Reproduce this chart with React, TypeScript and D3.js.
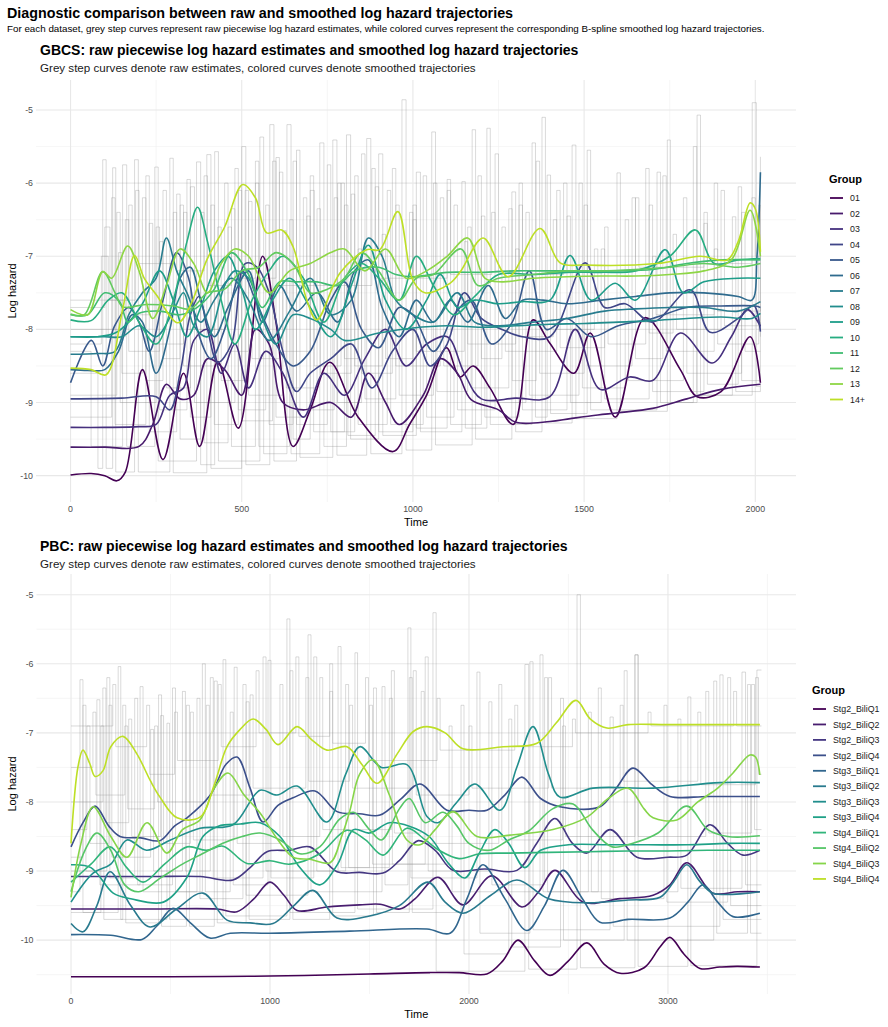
import React from "react";
import * as d3 from "d3";

type P = [number, number];

// ---------- GBCS ----------
const gbcsGroups = ["01", "02", "03", "04", "05", "06", "07", "08", "09", "10", "11", "12", "13", "14+"];

const g01: P[] = [[0,-9.99],[60,-9.97],[100,-10.0],[135,-10.07],[160,-9.95],[210,-8.55],[270,-9.78],[330,-8.6],[377,-9.6],[430,-8.44],[490,-9.35],[561,-7.0],[600,-7.9],[650,-9.6],[700,-9.1],[757,-8.45],[840,-9.2],[942,-9.67],[990,-9.3],[1040,-8.9],[1098,-8.25],[1137,-8.65],[1176,-8.5],[1225,-8.8],[1293,-9.3],[1351,-7.87],[1400,-8.19],[1470,-8.6],[1518,-8.05],[1591,-9.2],[1678,-7.84],[1781,-8.55],[1830,-8.92],[1900,-8.85],[1985,-8.1],[2015,-8.73]];
const g02: P[] = [[0,-9.61],[100,-9.61],[200,-9.6],[240,-9.3],[280,-8.75],[320,-8.95],[360,-8.9],[400,-8.4],[450,-8.55],[500,-8.9],[540,-8.0],[580,-8.2],[620,-9.0],[680,-9.1],[760,-9.0],[820,-9.2],[870,-8.6],[920,-9.0],[960,-9.3],[1030,-8.9],[1080,-8.4],[1130,-8.6],[1170,-8.96],[1250,-9.1],[1300,-9.27],[1400,-9.26],[1460,-9.22],[1540,-9.17],[1600,-9.14],[1700,-9.08],[1800,-8.95],[1900,-8.82],[2015,-8.75]];
const g03: P[] = [[0,-9.34],[100,-9.34],[200,-9.33],[250,-9.3],[290,-8.9],[330,-8.8],[360,-8.15],[400,-8.0],[440,-8.6],[480,-8.2],[520,-8.8],[570,-8.3],[620,-8.6],[680,-9.2],[740,-8.6],[800,-8.9],[860,-8.4],[920,-8.0],[980,-8.5],[1040,-8.2],[1100,-8.1],[1150,-8.6],[1200,-8.95],[1300,-8.94],[1400,-8.92],[1474,-8.0],[1547,-8.82],[1633,-8.65],[1700,-8.7],[1781,-8.05],[1874,-8.46],[1930,-8.1],[1977,-7.73],[2015,-7.96]];
const g04: P[] = [[0,-8.95],[150,-8.94],[250,-8.92],[290,-9.1],[320,-8.6],[350,-7.8],[375,-7.55],[400,-8.0],[430,-8.45],[470,-8.2],[510,-7.1],[545,-7.15],[580,-7.5],[620,-8.3],[660,-8.85],[700,-8.6],[760,-8.4],[820,-8.2],[880,-8.8],[940,-8.3],[1000,-8.0],[1050,-8.5],[1100,-8.2],[1150,-7.5],[1200,-7.85],[1260,-8.0],[1320,-8.1],[1400,-8.1],[1503,-7.09],[1560,-7.7],[1620,-7.65],[1700,-7.9],[1810,-7.46],[1868,-8.04],[1950,-7.85],[1995,-7.67],[2015,-8.03]];
const g05: P[] = [[0,-8.73],[61,-8.15],[94,-8.5],[128,-7.96],[170,-7.7],[200,-7.9],[230,-8.3],[270,-7.6],[310,-6.95],[345,-7.3],[370,-8.0],[410,-8.4],[450,-8.0],[500,-7.2],[540,-7.6],[600,-8.2],[650,-8.5],[700,-8.3],[760,-7.6],[800,-7.35],[850,-8.0],[900,-8.25],[960,-7.7],[1000,-7.8],[1060,-8.3],[1120,-7.8],[1170,-7.6],[1230,-8.2],[1290,-7.9],[1340,-7.2],[1390,-8.0],[1450,-7.85],[1520,-8.1],[1600,-7.95],[1700,-7.85],[1800,-7.7],[1900,-7.68],[2000,-7.68],[2015,-7.7]];
const g06: P[] = [[0,-8.55],[50,-8.56],[100,-8.55],[140,-8.3],[180,-7.8],[210,-7.9],[250,-8.6],[290,-8.0],[320,-7.3],[350,-7.15],[380,-7.6],[420,-8.1],[460,-7.7],[520,-7.2],[560,-7.9],[610,-7.4],[660,-7.75],[720,-7.5],[780,-7.9],[830,-7.2],[870,-7.05],[910,-7.7],[960,-8.1],[1010,-7.6],[1060,-7.9],[1110,-7.6],[1160,-7.9],[1220,-7.4],[1270,-7.85],[1320,-7.6],[1380,-7.6],[1450,-7.65],[1550,-7.6],[1650,-7.55],[1750,-7.5],[1850,-7.5],[1950,-7.55],[1990,-7.6],[2005,-7.0],[2015,-5.85]];
const g07: P[] = [[0,-8.34],[80,-8.33],[130,-8.3],[170,-7.8],[210,-7.5],[250,-7.3],[280,-6.75],[310,-7.2],[340,-7.5],[380,-7.9],[420,-7.6],[470,-7.3],[520,-7.6],[580,-8.15],[640,-7.75],[700,-7.3],[760,-7.8],[820,-7.6],[870,-6.75],[910,-7.0],[950,-7.6],[1000,-7.8],[1060,-7.9],[1130,-7.5],[1180,-7.9],[1250,-7.95],[1350,-7.9],[1450,-7.85],[1560,-7.75],[1650,-7.72],[1750,-7.7],[1850,-7.7],[1950,-7.75],[2015,-7.62]];
const g08: P[] = [[0,-8.1],[100,-8.1],[150,-8.1],[200,-7.95],[250,-8.1],[300,-7.75],[330,-7.5],[360,-7.95],[400,-8.1],[450,-7.4],[480,-7.2],[520,-7.3],[560,-7.85],[600,-8.2],[650,-7.8],[700,-7.85],[760,-8.0],[800,-8.15],[900,-8.05],[1000,-7.98],[1100,-7.95],[1200,-7.97],[1300,-7.95],[1400,-7.93],[1500,-7.92],[1600,-7.9],[1700,-7.88],[1800,-7.85],[1900,-7.83],[1990,-7.85],[2015,-7.78]];
const g09: P[] = [[0,-8.1],[80,-8.1],[130,-8.05],[170,-7.9],[210,-7.65],[260,-7.2],[300,-7.6],[340,-8.1],[380,-7.7],[420,-7.2],[460,-7.0],[500,-7.45],[540,-8.0],[590,-7.6],[640,-7.3],[700,-7.7],[760,-8.1],[820,-7.4],[870,-6.85],[920,-7.6],[980,-8.0],[1040,-7.6],[1080,-7.25],[1130,-7.7],[1180,-7.6],[1250,-7.65],[1320,-7.62],[1400,-7.6],[1459,-6.99],[1520,-7.6],[1591,-7.37],[1650,-7.6],[1737,-6.91],[1790,-7.5],[1850,-7.35],[1950,-7.3],[2015,-7.3]];
const g10: P[] = [[0,-7.87],[60,-7.88],[110,-7.6],[150,-7.5],[200,-7.9],[250,-8.2],[300,-7.6],[340,-6.8],[371,-6.33],[400,-6.8],[440,-7.6],[480,-8.2],[530,-7.6],[580,-7.2],[620,-7.0],[680,-7.3],[740,-7.9],[800,-7.3],[850,-7.1],[900,-7.3],[960,-7.6],[1010,-7.0],[1060,-7.4],[1120,-7.8],[1180,-7.55],[1250,-7.25],[1350,-7.25],[1450,-7.22],[1550,-7.22],[1650,-7.2],[1750,-7.0],[1825,-6.64],[1880,-7.1],[1950,-7.05],[2015,-7.03]];
const g11: P[] = [[0,-7.8],[50,-7.8],[100,-7.5],[143,-7.62],[167,-7.9],[200,-7.78],[260,-7.75],[320,-7.8],[370,-7.7],[420,-7.45],[470,-6.95],[520,-7.25],[560,-7.7],[610,-7.35],[660,-7.35],[720,-7.35],[780,-7.4],[830,-7.2],[900,-7.15],[950,-7.25],[1000,-7.28],[1100,-7.22],[1200,-7.22],[1300,-7.2],[1400,-7.2],[1500,-7.2],[1600,-7.2],[1700,-7.18],[1800,-7.1],[1900,-7.05],[2015,-7.05]];
const g12: P[] = [[0,-7.79],[40,-7.8],[94,-7.21],[130,-7.5],[152,-7.69],[220,-7.66],[300,-7.68],[350,-7.72],[400,-7.5],[450,-7.45],[500,-7.2],[550,-7.15],[600,-6.95],[650,-7.1],[700,-7.5],[750,-7.45],[800,-7.3],[850,-6.95],[900,-7.2],[960,-7.6],[1010,-7.3],[1060,-7.25],[1140,-6.9],[1190,-7.4],[1250,-7.3],[1350,-7.25],[1450,-7.2],[1550,-7.2],[1650,-7.18],[1750,-7.15],[1850,-7.1],[1950,-7.15],[2015,-7.1]];
const g13: P[] = [[0,-7.73],[50,-7.8],[94,-7.21],[120,-7.3],[167,-6.86],[200,-7.2],[240,-7.85],[280,-7.4],[320,-6.9],[360,-7.1],[400,-7.5],[440,-7.1],[480,-6.9],[520,-7.0],[580,-7.5],[640,-7.2],[700,-7.1],[760,-6.95],[800,-6.9],[860,-7.2],[920,-6.9],[980,-7.3],[1040,-7.2],[1100,-7.0],[1160,-6.75],[1210,-7.3],[1260,-7.35],[1350,-7.3],[1450,-7.28],[1550,-7.27],[1650,-7.27],[1750,-7.25],[1850,-7.2],[1930,-7.05],[1985,-6.37],[2015,-7.0]];
const g14: P[] = [[0,-8.53],[60,-8.55],[104,-8.62],[152,-7.73],[187,-6.99],[215,-7.3],[251,-7.53],[313,-7.91],[353,-7.64],[398,-7.05],[450,-6.6],[503,-6.02],[540,-6.2],[573,-6.68],[617,-6.64],[650,-6.87],[690,-7.6],[719,-7.87],[787,-7.23],[865,-6.91],[903,-6.91],[956,-6.39],[1000,-7.33],[1035,-7.5],[1108,-7.37],[1140,-7.2],[1205,-6.75],[1278,-7.28],[1371,-6.62],[1430,-7.09],[1500,-7.12],[1713,-7.1],[1839,-7.0],[1918,-7.05],[1950,-6.8],[1985,-6.27],[2000,-6.35],[2015,-6.94]];
const gbcsSmooth = [g01, g02, g03, g04, g05, g06, g07, g08, g09, g10, g11, g12, g13, g14];

const gr1: P[] = [[0,-8.6],[80,-9.9],[94,-5.68],[104,-9.9],[123,-5.79],[132,-9.95],[187,-5.68],[198,-9.95],[290,-5.66],[300,-9.96],[398,-5.61],[410,-9.9],[500,-5.5],[512,-9.85],[582,-5.2],[594,-9.8],[660,-5.55],[670,-9.75],[766,-5.41],[778,-9.72],[865,-5.39],[877,-9.7],[968,-4.86],[980,-9.65],[1055,-5.3],[1066,-9.58],[1173,-5.27],[1183,-9.5],[1289,-6.12],[1300,-9.4],[1377,-5.1],[1387,-9.28],[1465,-5.48],[1476,-9.22],[1596,-5.86],[1606,-9.12],[1743,-5.41],[1752,-9.0],[1830,-5.07],[1840,-8.9],[1991,-4.9],[2003,-8.78],[2015,-8.78]];
const gr2: P[] = [[0,-8.3],[60,-9.6],[152,-5.75],[164,-9.6],[246,-5.78],[256,-9.8],[368,-5.71],[380,-9.85],[421,-5.57],[432,-9.8],[553,-5.37],[564,-9.7],[632,-5.2],[644,-9.7],[728,-5.45],[740,-9.6],[806,-5.34],[818,-9.5],[900,-5.6],[912,-9.45],[1010,-5.85],[1022,-9.4],[1143,-5.98],[1153,-9.35],[1216,-5.25],[1226,-9.3],[1348,-5.45],[1358,-9.2],[1392,-5.89],[1402,-9.15],[1509,-5.55],[1519,-9.1],[1713,-5.85],[1723,-9.0],[1819,-5.5],[1829,-8.9],[1933,-6.46],[1943,-8.85],[2015,-5.64]];
const gr3: P[] = [[0,-7.7],[100,-6.6],[115,-7.6],[170,-6.3],[180,-7.8],[230,-6.55],[240,-8.2],[330,-6.4],[340,-8.0],[450,-6.0],[460,-8.3],[520,-6.25],[530,-8.4],[610,-5.85],[620,-8.3],[700,-6.1],[712,-8.5],[790,-6.0],[800,-8.4],[840,-6.9],[850,-8.6],[940,-5.8],[950,-8.5],[1080,-6.2],[1090,-8.5],[1190,-5.9],[1200,-8.4],[1260,-6.6],[1270,-8.3],[1420,-6.1],[1430,-8.25],[1560,-6.6],[1570,-8.2],[1680,-5.8],[1690,-8.05],[1760,-6.7],[1770,-8.0],[1900,-6.1],[1910,-7.95],[2015,-7.9]];
const gr4: P[] = [[0,-8.0],[140,-6.95],[150,-8.6],[210,-6.2],[220,-8.7],[270,-6.1],[280,-8.8],[350,-6.05],[362,-9.0],[480,-5.8],[490,-9.1],[570,-6.3],[580,-9.3],[650,-5.7],[660,-9.3],[750,-5.75],[760,-9.4],[830,-5.9],[840,-9.3],[925,-6.1],[935,-9.3],[1030,-5.9],[1040,-9.2],[1120,-6.3],[1130,-9.1],[1240,-5.6],[1250,-9.0],[1330,-6.4],[1340,-8.9],[1485,-6.0],[1495,-8.8],[1620,-6.5],[1630,-8.7],[1790,-6.2],[1800,-8.6],[1960,-6.4],[1970,-8.3],[2015,-8.3]];
const gr5: P[] = [[0,-7.6],[190,-6.1],[200,-7.1],[300,-6.4],[310,-7.2],[390,-5.9],[400,-7.4],[470,-6.35],[480,-7.3],[540,-5.7],[550,-7.3],[600,-5.65],[610,-7.4],[680,-6.2],[690,-7.4],[780,-6.0],[790,-7.4],[880,-5.8],[890,-7.3],[990,-6.4],[1000,-7.3],[1100,-6.1],[1110,-7.25],[1230,-6.4],[1240,-7.2],[1310,-6.3],[1320,-7.25],[1440,-6.0],[1450,-7.2],[1650,-6.2],[1660,-7.15],[1850,-6.4],[1860,-7.1],[1990,-6.2],[2000,-7.0],[2015,-7.0]];
const gr6: P[] = [[0,-8.2],[90,-7.0],[110,-8.1],[160,-6.5],[170,-8.3],[260,-6.8],[270,-8.4],[320,-6.3],[330,-8.5],[430,-6.6],[440,-8.7],[510,-6.1],[520,-8.9],[620,-6.65],[630,-8.8],[720,-6.35],[730,-8.6],[820,-6.15],[830,-8.5],[910,-6.7],[920,-8.4],[1000,-6.5],[1010,-8.3],[1150,-6.8],[1160,-8.2],[1300,-6.9],[1310,-8.1],[1410,-6.5],[1420,-8.0],[1530,-6.9],[1540,-7.9],[1700,-7.0],[1710,-7.8],[1880,-6.9],[1890,-7.75],[2015,-7.7]];
const gr7: P[] = [[0,-9.2],[120,-6.2],[130,-9.3],[220,-5.9],[230,-9.4],[310,-6.15],[320,-9.5],[380,-6.4],[390,-9.55],[460,-6.6],[470,-9.6],[540,-6.0],[550,-9.6],[640,-6.5],[650,-9.5],[700,-5.9],[710,-9.4],[800,-6.3],[810,-9.45],[890,-6.05],[900,-9.4],[1000,-6.3],[1010,-9.35],[1100,-5.95],[1110,-9.3],[1200,-6.45],[1210,-9.2],[1310,-6.0],[1320,-9.1],[1450,-6.45],[1460,-9.0],[1550,-6.9],[1560,-8.95],[1690,-6.3],[1700,-8.85],[1850,-6.55],[1860,-8.75],[1950,-6.05],[1960,-8.7],[2015,-8.7]];
const gr8: P[] = [[0,-8.9],[135,-6.4],[145,-9.0],[250,-6.6],[260,-9.1],[340,-5.95],[350,-9.2],[410,-6.3],[420,-9.3],[490,-6.1],[500,-9.25],[590,-5.7],[600,-9.2],[690,-6.45],[700,-9.1],[770,-6.2],[780,-9.0],[850,-5.6],[860,-8.95],[950,-6.3],[960,-8.9],[1060,-6.0],[1070,-8.85],[1160,-6.6],[1170,-8.8],[1280,-6.35],[1290,-8.7],[1360,-5.7],[1370,-8.6],[1500,-6.3],[1510,-8.5],[1640,-6.2],[1650,-8.4],[1730,-5.9],[1740,-8.3],[1880,-6.0],[1890,-8.2],[2010,-6.3],[2015,-8.1]];
const gbcsRaw = [gr1, gr2, gr3, gr4, gr5, gr6, gr7, gr8];

const gbcsXTicks = [0, 500, 1000, 1500, 2000];
const gbcsXMinor = [250, 750, 1250, 1750];
const gbcsYTicks = [-5, -6, -7, -8, -9, -10];
const gbcsYMinor = [-5.5, -6.5, -7.5, -8.5, -9.5];

// ---------- PBC ----------
const pbcGroups = ["Stg2_BiliQ1", "Stg2_BiliQ2", "Stg2_BiliQ3", "Stg2_BiliQ4", "Stg3_BiliQ1", "Stg3_BiliQ2", "Stg3_BiliQ3", "Stg3_BiliQ4", "Stg4_BiliQ1", "Stg4_BiliQ2", "Stg4_BiliQ3", "Stg4_BiliQ4"];

const s2q1: P[] = [[0,-10.53],[500,-10.53],[1000,-10.52],[1500,-10.49],[1800,-10.47],[1950,-10.47],[2090,-10.49],[2170,-10.3],[2246,-10.0],[2330,-10.3],[2407,-10.51],[2500,-10.3],[2593,-10.04],[2680,-10.35],[2759,-10.48],[2880,-10.4],[2960,-10.1],[3010,-9.96],[3080,-10.2],[3161,-10.41],[3260,-10.39],[3347,-10.38],[3462,-10.39]];
const s2q2: P[] = [[0,-9.55],[400,-9.55],[733,-9.55],[834,-9.59],[920,-9.4],[1000,-9.16],[1070,-9.35],[1136,-9.57],[1286,-9.52],[1450,-9.49],[1553,-9.48],[1653,-9.55],[1730,-9.4],[1844,-9.09],[1970,-9.49],[2115,-9.07],[2266,-9.52],[2350,-9.3],[2432,-8.99],[2573,-9.45],[2759,-9.4],[2925,-9.35],[3010,-9.2],[3095,-8.88],[3226,-9.32],[3350,-9.3],[3462,-9.3]];
const s2q3: P[] = [[0,-9.08],[400,-9.08],[650,-9.08],[814,-9.13],[900,-8.95],[985,-8.72],[1100,-8.7],[1200,-8.65],[1337,-9.01],[1450,-9.02],[1568,-9.03],[1650,-8.85],[1745,-8.56],[1830,-8.7],[1920,-8.99],[2080,-8.97],[2241,-8.99],[2340,-8.6],[2432,-8.24],[2520,-8.6],[2593,-8.74],[2709,-8.4],[2844,-8.8],[3000,-8.8],[3095,-8.77],[3211,-8.33],[3300,-8.6],[3377,-8.77],[3462,-8.7]];
const s2q4: P[] = [[0,-8.65],[60,-8.3],[121,-8.06],[190,-8.35],[246,-8.5],[350,-8.52],[447,-8.56],[520,-8.35],[583,-8.23],[700,-7.9],[780,-7.45],[834,-7.35],[900,-7.8],[965,-8.29],[1040,-8.05],[1116,-7.94],[1226,-7.84],[1337,-8.14],[1450,-8.17],[1553,-8.19],[1660,-7.95],[1754,-7.74],[1889,-8.12],[2000,-8.12],[2090,-8.12],[2180,-7.9],[2266,-7.64],[2360,-7.95],[2457,-8.07],[2658,-8.07],[2740,-7.8],[2824,-7.51],[2920,-7.75],[3010,-7.92],[3200,-7.92],[3462,-7.92]];
const s3q1: P[] = [[0,-9.92],[200,-9.93],[357,-9.99],[430,-9.8],[513,-9.54],[600,-9.75],[698,-9.97],[800,-9.9],[1000,-9.9],[1400,-9.87],[1789,-9.84],[1905,-9.9],[1990,-9.4],[2070,-8.91],[2180,-9.4],[2291,-9.86],[2380,-9.5],[2472,-8.99],[2570,-9.4],[2658,-9.74],[2800,-9.7],[3010,-9.68],[3100,-9.45],[3176,-9.2],[3250,-9.45],[3327,-9.66],[3462,-9.61]];
const s3q2: P[] = [[0,-9.76],[60,-9.88],[130,-9.5],[196,-9.01],[300,-9.5],[397,-9.81],[530,-9.55],[663,-9.32],[784,-9.71],[900,-9.75],[1015,-9.76],[1120,-9.5],[1216,-9.28],[1337,-9.68],[1500,-9.65],[1650,-9.5],[1794,-9.16],[1880,-9.45],[1970,-9.61],[2110,-9.35],[2241,-9.13],[2400,-9.4],[2593,-9.46],[2800,-9.42],[2960,-9.38],[3030,-9.15],[3095,-8.91],[3160,-9.15],[3226,-9.32],[3462,-9.3]];
const s3q3: P[] = [[0,-9.45],[111,-9.03],[200,-8.9],[281,-8.55],[380,-8.7],[500,-8.55],[648,-8.38],[814,-8.33],[950,-7.83],[1035,-7.9],[1136,-7.77],[1286,-8.29],[1380,-7.6],[1452,-7.2],[1560,-7.5],[1688,-7.46],[1789,-8.21],[1844,-8.3],[1940,-8.0],[2030,-7.74],[2156,-8.12],[2240,-7.5],[2322,-6.91],[2400,-7.6],[2457,-7.93],[2623,-7.8],[2925,-7.8],[3261,-7.72],[3462,-7.72]];
const s3q4: P[] = [[0,-8.91],[100,-8.95],[212,-9.32],[300,-9.4],[464,-9.45],[583,-9.09],[663,-8.5],[740,-8.35],[850,-8.32],[950,-8.3],[1050,-8.5],[1150,-8.95],[1250,-9.2],[1340,-8.9],[1420,-8.4],[1500,-8.45],[1600,-8.3],[1700,-8.35],[1800,-8.5],[1900,-8.9],[1980,-9.1],[2050,-8.75],[2130,-8.4],[2200,-8.6],[2280,-8.95],[2360,-8.7],[2500,-8.62],[2700,-8.62],[2900,-8.62],[3100,-8.62],[3300,-8.6],[3462,-8.6]];
const s4q1: P[] = [[0,-9.16],[100,-8.9],[196,-8.65],[280,-8.95],[362,-9.16],[470,-8.9],[583,-8.65],[680,-8.7],[764,-8.64],[884,-8.89],[1000,-8.85],[1100,-8.9],[1250,-8.75],[1387,-8.41],[1480,-8.55],[1568,-8.77],[1688,-8.38],[1780,-8.55],[1850,-8.7],[1950,-8.82],[2055,-8.75],[2200,-8.74],[2400,-8.73],[2600,-8.72],[2800,-8.71],[3000,-8.71],[3200,-8.7],[3462,-8.7]];
const s4q2: P[] = [[0,-9.3],[70,-8.7],[130,-8.45],[200,-8.7],[270,-9.2],[340,-9.3],[450,-9.1],[560,-8.9],[660,-8.75],[760,-8.6],[860,-8.5],[950,-8.45],[1050,-8.55],[1150,-8.75],[1250,-8.65],[1350,-8.25],[1420,-8.15],[1500,-8.4],[1560,-8.55],[1650,-8.1],[1700,-7.95],[1780,-8.3],[1870,-8.15],[1940,-8.35],[2000,-8.6],[2100,-8.7],[2200,-8.55],[2300,-8.42],[2420,-8.1],[2523,-8.03],[2620,-8.4],[2720,-8.65],[2820,-8.6],[2950,-8.45],[3095,-8.06],[3200,-8.4],[3300,-8.5],[3462,-8.49]];
const s4q3: P[] = [[0,-9.38],[50,-8.6],[111,-8.07],[200,-8.5],[281,-8.8],[382,-8.3],[482,-8.74],[560,-8.4],[648,-8.26],[720,-7.8],[789,-7.58],[870,-7.9],[950,-8.16],[1040,-8.55],[1116,-8.8],[1201,-8.83],[1302,-8.88],[1360,-8.5],[1402,-8.12],[1450,-7.6],[1518,-7.39],[1600,-7.9],[1688,-8.55],[1754,-8.62],[1830,-8.4],[1920,-8.14],[2040,-8.5],[2206,-8.48],[2422,-8.4],[2593,-8.22],[2700,-7.95],[2799,-7.8],[2880,-8.1],[2925,-8.23],[3045,-8.26],[3150,-8.0],[3250,-7.8],[3327,-7.58],[3412,-7.32],[3440,-7.35],[3462,-7.61]];
const s4q4: P[] = [[0,-8.6],[35,-7.49],[60,-7.25],[95,-7.45],[121,-7.63],[160,-7.55],[200,-7.2],[261,-7.05],[330,-7.3],[400,-7.7],[447,-7.93],[533,-8.23],[648,-8.22],[720,-7.75],[784,-7.2],[850,-6.95],[915,-6.8],[980,-6.95],[1040,-7.17],[1136,-6.91],[1210,-7.1],[1286,-7.25],[1387,-7.2],[1460,-7.45],[1538,-7.73],[1640,-7.3],[1720,-6.98],[1789,-6.91],[1880,-7.0],[1970,-7.23],[2171,-7.2],[2342,-7.15],[2440,-6.85],[2538,-6.53],[2610,-6.8],[2693,-6.93],[2800,-6.88],[3000,-6.88],[3462,-6.88]];
const pbcSmooth = [s2q1, s2q2, s2q3, s2q4, s3q1, s3q2, s3q3, s3q4, s4q1, s4q2, s4q3, s4q4];

const pr1: P[] = [[0,-9.3],[45,-6.23],[60,-9.6],[237,-6.04],[250,-9.7],[482,-6.86],[495,-9.7],[764,-5.94],[778,-9.65],[1085,-5.35],[1100,-9.6],[1427,-5.84],[1440,-9.55],[1819,-5.26],[1835,-10.45],[2281,-6.01],[2300,-10.42],[2543,-5.0],[2560,-10.4],[2834,-5.87],[2850,-10.38],[3100,-6.48],[3115,-10.37],[3447,-6.09],[3470,-6.09]];
const pr2: P[] = [[0,-9.0],[130,-6.52],[145,-9.2],[347,-6.33],[362,-9.3],[633,-6.5],[648,-9.4],[864,-6.3],[880,-9.35],[1191,-5.58],[1206,-9.3],[1563,-6.33],[1578,-9.2],[1693,-5.48],[1708,-9.1],[2040,-6.12],[2055,-9.9],[2306,-5.97],[2322,-9.85],[2709,-6.77],[2725,-9.8],[3261,-6.16],[3277,-9.7],[3470,-9.7]];
const pr3: P[] = [[0,-8.4],[80,-6.9],[95,-8.6],[190,-6.6],[205,-8.8],[400,-6.95],[415,-9.0],[560,-6.4],[575,-9.0],[700,-6.2],[715,-9.1],[965,-5.9],[980,-9.0],[1342,-5.75],[1357,-8.95],[1500,-6.6],[1515,-8.9],[1900,-6.9],[1915,-9.3],[2357,-5.87],[2372,-9.3],[2600,-6.7],[2615,-9.3],[3050,-6.8],[3065,-9.25],[3372,-6.12],[3390,-9.2],[3470,-9.2]];
const pr4: P[] = [[0,-8.0],[160,-6.35],[175,-8.3],[290,-6.8],[305,-8.5],[450,-6.75],[465,-8.6],[600,-6.7],[615,-8.55],[820,-6.05],[835,-8.6],[1050,-6.3],[1065,-8.5],[1250,-6.2],[1265,-8.4],[1610,-6.1],[1625,-8.45],[1760,-6.4],[1775,-8.6],[2150,-6.3],[2165,-8.55],[2470,-6.9],[2485,-8.5],[2834,-5.87],[2850,-8.5],[3190,-6.4],[3205,-8.45],[3420,-6.3],[3435,-8.4],[3470,-8.4]];
const pr5: P[] = [[0,-6.9],[210,-6.3],[225,-7.2],[380,-6.6],[395,-7.6],[520,-6.7],[535,-7.4],[740,-6.3],[755,-7.2],[930,-6.1],[945,-7.0],[1130,-5.9],[1145,-7.05],[1300,-6.4],[1315,-7.15],[1480,-6.2],[1495,-7.4],[1840,-6.5],[1855,-7.25],[2230,-6.6],[2245,-7.2],[2520,-6.8],[2535,-7.0],[2900,-6.7],[2915,-6.9],[3330,-6.4],[3345,-6.9],[3470,-6.9]];
const pr6: P[] = [[0,-7.5],[110,-6.7],[125,-7.9],[270,-6.9],[285,-8.1],[420,-6.9],[435,-8.0],[680,-6.6],[695,-7.9],[900,-6.45],[915,-7.8],[1180,-6.2],[1195,-7.7],[1400,-6.6],[1415,-7.8],[1720,-6.1],[1735,-7.9],[2000,-6.9],[2015,-7.8],[2400,-6.2],[2415,-7.8],[2760,-6.6],[2775,-7.7],[3150,-6.7],[3165,-7.75],[3440,-6.2],[3455,-7.6],[3470,-7.6]];
const pr7: P[] = [[0,-8.8],[60,-6.6],[75,-9.0],[180,-6.2],[195,-9.1],[320,-6.5],[335,-9.2],[510,-6.35],[525,-9.3],[660,-6.0],[675,-9.3],[800,-6.7],[815,-9.2],[990,-5.95],[1005,-9.1],[1220,-5.9],[1235,-9.0],[1380,-6.3],[1395,-8.95],[1600,-6.5],[1615,-8.9],[1780,-5.9],[1795,-9.0],[2100,-6.55],[2115,-9.2],[2380,-6.2],[2395,-9.3],[2650,-6.35],[2665,-9.4],[2980,-6.6],[2995,-9.45],[3300,-6.2],[3315,-9.5],[3470,-9.5]];
const pr8: P[] = [[0,-9.6],[150,-6.9],[165,-9.7],[260,-6.6],[275,-9.75],[440,-6.45],[455,-9.8],[580,-6.6],[595,-9.8],[720,-6.25],[735,-9.75],[880,-6.55],[895,-9.7],[1100,-6.1],[1115,-9.7],[1300,-6.0],[1315,-9.65],[1520,-6.35],[1535,-9.6],[1700,-6.2],[1715,-9.6],[1960,-6.6],[1975,-10.2],[2200,-6.8],[2215,-10.1],[2460,-6.5],[2475,-10.0],[2780,-6.1],[2795,-10.0],[3230,-6.25],[3245,-9.9],[3400,-6.3],[3415,-9.9],[3470,-9.9]];
const pbcRaw = [pr1, pr2, pr3, pr4, pr5, pr6, pr7, pr8];

const pbcXTicks = [0, 1000, 2000, 3000];
const pbcXMinor = [500, 1500, 2500, 3500];
const pbcYTicks = [-5, -6, -7, -8, -9, -10];
const pbcYMinor = [-5.5, -6.5, -7.5, -8.5, -9.5, -10.5];

const FONT = "'Liberation Sans', Arial, Helvetica, sans-serif";

type PanelProps = {
  title: string;
  subtitle: string;
  titleY: number;
  groups: string[];
  smooth: P[][];
  raw: P[][];
  xDomain: [number, number];
  yDomain: [number, number];
  box: { l: number; r: number; t: number; b: number };
  xTicks: number[];
  xMinor: number[];
  yTicks: number[];
  yMinor: number[];
  legendX: number;
  legendTitleY: number;
  legendFirstY: number;
  legendStep: number;
};

function Panel(p: PanelProps) {
  const x = d3.scaleLinear().domain(p.xDomain).range([p.box.l, p.box.r]);
  const y = d3.scaleLinear().domain(p.yDomain).range([p.box.b, p.box.t]);
  const smoothLine = d3.line<P>().x((d) => x(d[0])).y((d) => y(d[1])).curve(d3.curveCatmullRom.alpha(0.5));
  const stepLine = d3.line<P>().x((d) => x(d[0])).y((d) => y(d[1])).curve(d3.curveStepAfter);
  const n = p.groups.length;
  const color = (i: number) => d3.interpolateViridis((0.9 * i) / (n - 1));
  const cy = (p.box.t + p.box.b) / 2;
  const cx = (p.box.l + p.box.r) / 2;
  return (
    <g>
      <text x={40} y={p.titleY} fontSize={14} fontWeight="bold" fill="#000">{p.title}</text>
      <text x={40} y={p.titleY + 17} fontSize={11.6} fill="#1a1a1a">{p.subtitle}</text>
      {p.yMinor.map((v) => (
        <line key={"ym" + v} x1={p.box.l} x2={p.box.r} y1={y(v)} y2={y(v)} stroke="#f0f0f0" strokeWidth={0.6} />
      ))}
      {p.xMinor.map((v) => (
        <line key={"xm" + v} x1={x(v)} x2={x(v)} y1={p.box.t} y2={p.box.b} stroke="#f0f0f0" strokeWidth={0.6} />
      ))}
      {p.yTicks.map((v) => (
        <line key={"y" + v} x1={p.box.l} x2={p.box.r} y1={y(v)} y2={y(v)} stroke="#e8e8e8" strokeWidth={1.1} />
      ))}
      {p.xTicks.map((v) => (
        <line key={"x" + v} x1={x(v)} x2={x(v)} y1={p.box.t} y2={p.box.b} stroke="#e8e8e8" strokeWidth={1.1} />
      ))}
      {p.raw.map((s, i) => (
        <path key={"r" + i} d={stepLine(s) || ""} fill="none" stroke="#8c8c8c" strokeOpacity={0.55} strokeWidth={0.6} />
      ))}
      {p.smooth.map((s, i) => (
        <path key={"s" + i} d={smoothLine(s) || ""} fill="none" stroke={color(i)} strokeWidth={1.6} strokeLinejoin="round" />
      ))}
      {p.yTicks.map((v) => (
        <text key={"yl" + v} x={p.box.l - 3} y={y(v) + 3} fontSize={8.8} fill="#4d4d4d" textAnchor="end">{v}</text>
      ))}
      {p.xTicks.map((v) => (
        <text key={"xl" + v} x={x(v)} y={p.box.b + 10} fontSize={8.8} fill="#4d4d4d" textAnchor="middle">{v}</text>
      ))}
      <text x={cx} y={p.box.b + 24} fontSize={11} fill="#000" textAnchor="middle">Time</text>
      <text transform={`translate(16,${cy}) rotate(-90)`} fontSize={11} fill="#000" textAnchor="middle">Log hazard</text>
      <text x={p.legendX - 1} y={p.legendTitleY} fontSize={11} fontWeight="bold" fill="#000">Group</text>
      {p.groups.map((g, i) => {
        const ly = p.legendFirstY + i * p.legendStep;
        return (
          <g key={"lg" + g}>
            <line x1={p.legendX} x2={p.legendX + 13} y1={ly} y2={ly} stroke={color(i)} strokeWidth={1.8} />
            <text x={p.legendX + 20} y={ly + 3.2} fontSize={8.8} fill="#1a1a1a">{g}</text>
          </g>
        );
      })}
    </g>
  );
}

export default function App() {
  return (
    <svg width={888} height={1027} style={{ position: "absolute", left: 0, top: 0, background: "#fff" }} fontFamily={FONT}>
      <rect x={0} y={0} width={888} height={1027} fill="#fff" />
      <text x={7} y={18} fontSize={14.3} fontWeight="bold" fill="#000">Diagnostic comparison between raw and smoothed log hazard trajectories</text>
      <text x={7} y={32} fontSize={9.8} fill="#000">For each dataset, grey step curves represent raw piecewise log hazard estimates, while colored curves represent the corresponding B-spline smoothed log hazard trajectories.</text>
      <Panel
        title="GBCS: raw piecewise log hazard estimates and smoothed log hazard trajectories"
        subtitle="Grey step curves denote raw estimates, colored curves denote smoothed trajectories"
        titleY={55}
        groups={gbcsGroups}
        smooth={gbcsSmooth}
        raw={gbcsRaw}
        xDomain={[-100.9, 2118.9]}
        yDomain={[-10.36, -4.59]}
        box={{ l: 36, r: 796, t: 80, b: 502 }}
        xTicks={gbcsXTicks}
        xMinor={gbcsXMinor}
        yTicks={gbcsYTicks}
        yMinor={gbcsYMinor}
        legendX={830}
        legendTitleY={183}
        legendFirstY={198}
        legendStep={15.5}
      />
      <Panel
        title="PBC: raw piecewise log hazard estimates and smoothed log hazard trajectories"
        subtitle="Grey step curves denote raw estimates, colored curves denote smoothed trajectories"
        titleY={551}
        groups={pbcGroups}
        smooth={pbcSmooth}
        raw={pbcRaw}
        xDomain={[-173.5, 3643.5]}
        yDomain={[-10.78, -4.7]}
        box={{ l: 36.5, r: 796, t: 574, b: 994 }}
        xTicks={pbcXTicks}
        xMinor={pbcXMinor}
        yTicks={pbcYTicks}
        yMinor={pbcYMinor}
        legendX={813}
        legendTitleY={694}
        legendFirstY={709}
        legendStep={15.45}
      />
    </svg>
  );
}
